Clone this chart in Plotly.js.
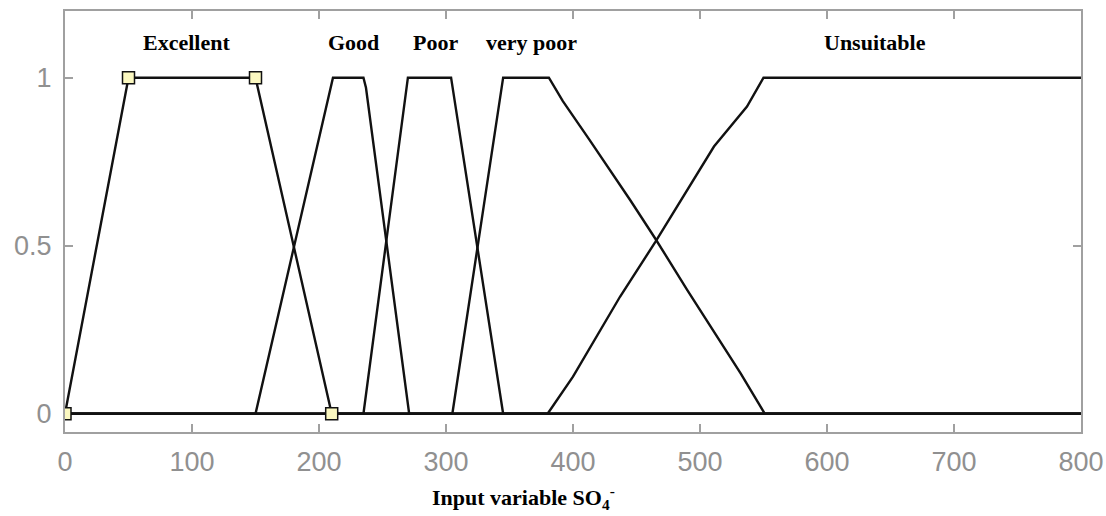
<!DOCTYPE html>
<html>
<head>
<meta charset="utf-8">
<script src="https://cdn.plot.ly/plotly-3.0.1.min.js"></script>
<style>
html,body{margin:0;padding:0;background:#fff;}
#chart{width:1106px;height:516px;}
</style>
</head>
<body>
<div id="chart"></div>
<script>
// Membership functions for input variable SO4-
const mfNames = ["Excellent", "Good", "Poor", "very poor", "Unsuitable"];

const excellentX = [0, 50, 150, 210, 800];
const excellentY = [0, 1, 1, 0, 0];

const goodX = [0, 150, 211, 235, 237, 271, 800];
const goodY = [0, 0, 1, 1, 0.97, 0, 0];

const poorX = [0, 235, 270, 304, 345, 800];
const poorY = [0, 0, 1, 1, 0, 0];

const veryPoorX = [0, 305, 345, 381, 392, 413, 445, 465, 490, 532, 551, 800];
const veryPoorY = [0, 0, 1, 1, 0.93, 0.815, 0.636, 0.52, 0.368, 0.12, 0, 0];

const unsuitableX = [0, 380, 400, 437, 465, 511, 537, 550, 800];
const unsuitableY = [0, 0, 0.11, 0.348, 0.512, 0.795, 0.914, 1, 1];

// Breakpoints of the selected MF (Excellent)
const paramX = [0, 50, 150, 210];
const paramY = [0, 1, 1, 0];

// Label anchor positions (x in data units)
const labelX = [96, 227, 291.5, 367.5, 638];
const labelY = 1.106;

const xTicks = [0, 100, 200, 300, 400, 500, 600, 700, 800];
const yTicks = [0, 0.5, 1];
const yTickText = ["0", "0.5", "1"];

const lineStyle = {color: "#111111", width: 2.4, simplify: false};
const series = [
  [excellentX, excellentY],
  [goodX, goodY],
  [poorX, poorY],
  [veryPoorX, veryPoorY],
  [unsuitableX, unsuitableY]
];

const traces = series.map((s, i) => ({
  x: s[0], y: s[1], type: "scatter", mode: "lines",
  name: mfNames[i], line: lineStyle, hoverinfo: "skip"
}));
traces.push({
  x: paramX, y: paramY, type: "scatter", mode: "markers",
  marker: {symbol: "square", size: 12, color: "#fbf8c0", line: {color: "#111111", width: 1.5}},
  hoverinfo: "skip"
});

const annFont = {family: "Liberation Serif, Times New Roman, serif", size: 22, color: "#000"};
const annotations = mfNames.map((n, i) => ({
  x: labelX[i], y: labelY, xref: "x", yref: "y", text: "<b>" + n + "</b>",
  showarrow: false, font: annFont, xanchor: "center", yanchor: "middle"
}));
annotations.push({
  x: 0.451, y: -0.155, xref: "paper", yref: "paper",
  text: "<b>Input variable SO<sub>4</sub><sup>-</sup></b>",
  showarrow: false, font: annFont, xanchor: "center", yanchor: "middle"
});

const axisCommon = {
  showline: true, linecolor: "#a0a0a0", linewidth: 2, mirror: "ticks",
  ticks: "inside", ticklen: 8, tickcolor: "#a0a0a0", tickwidth: 2,
  showgrid: false, zeroline: false, layer: "below traces",
  tickfont: {family: "Liberation Sans, Arial, sans-serif", size: 27, color: "#909090"}
};

const layout = {
  width: 1106, height: 516,
  margin: {l: 65, r: 25, t: 11, b: 84},
  paper_bgcolor: "#fff", plot_bgcolor: "#fff",
  showlegend: false,
  xaxis: Object.assign({}, axisCommon, {
    range: [0, 800], tickvals: xTicks, ticklabelstandoff: 5
  }),
  yaxis: Object.assign({}, axisCommon, {
    range: [-0.0545, 1.1985], tickvals: yTicks, ticktext: yTickText, ticklabelstandoff: 6
  }),
  annotations: annotations
};

Plotly.newPlot("chart", traces, layout, {staticPlot: true, displayModeBar: false});
</script>
</body>
</html>
